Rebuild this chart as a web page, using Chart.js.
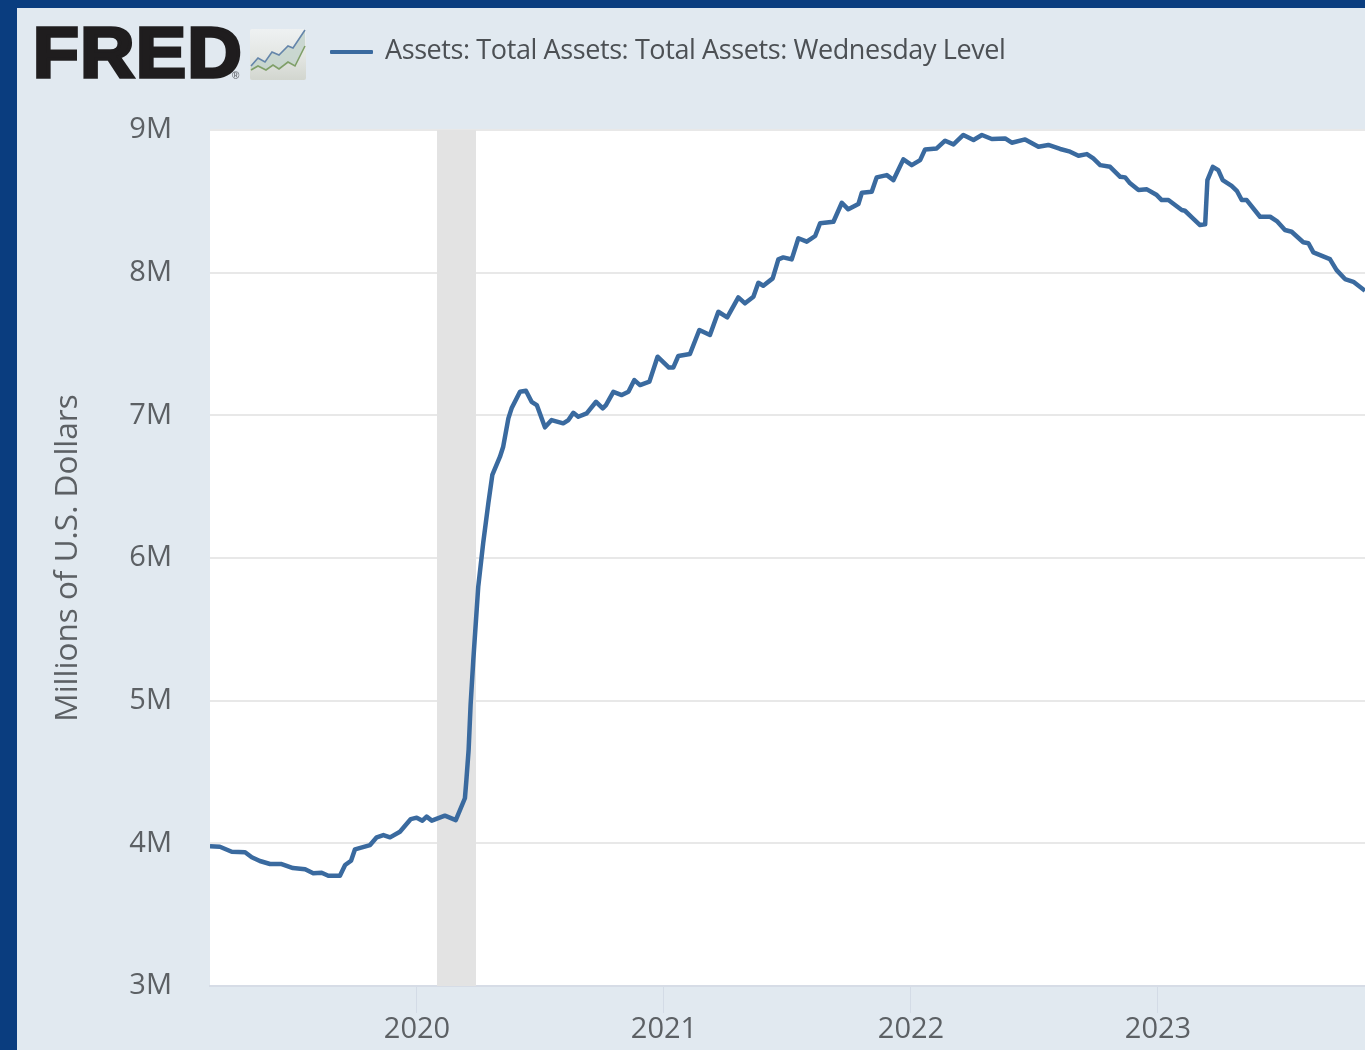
<!DOCTYPE html>
<html><head><meta charset="utf-8">
<script src="https://cdn.jsdelivr.net/npm/chart.js@4/dist/chart.umd.min.js"></script>
<style>
html,body{margin:0;padding:0;width:1365px;height:1050px;overflow:hidden;background:#0a3d7f}
#panel{position:absolute;left:17px;top:8px;width:1348px;height:1042px;background:#e1e9f0}
#wrap{position:absolute;left:0;top:0;width:1365px;height:1050px}
#logo{position:absolute;left:33px;top:13px;font:900 71px/80px "Liberation Sans",sans-serif;color:#1f1d1e;-webkit-text-stroke:3.5px #1f1d1e;letter-spacing:1.5px;transform-origin:left top;transform:scaleX(1.055)}
#reg{position:absolute;left:232px;top:71px;font:bold 10px/10px "Liberation Sans",sans-serif;color:#6a6f75}
#icon{position:absolute;left:250px;top:28px}
#lline{position:absolute;left:330px;top:50px;width:43px;height:4px;background:#3a6a9f;border-radius:1px}
#ltext{position:absolute;left:385px;top:31px;font:27px/36px "Open Sans",sans-serif;color:#4c5054;letter-spacing:-.4px;white-space:nowrap}
</style></head>
<body>
<div id="panel"></div>
<div id="wrap"><canvas id="c" width="1365" height="1050"></canvas></div>
<div id="logo">FRED</div><div id="reg">®</div>
<svg id="icon" width="58" height="52" viewBox="0 0 58 52">
<defs><linearGradient id="g" x1="0" y1="0" x2="0" y2="1"><stop offset="0" stop-color="#eef1f2"/><stop offset=".5" stop-color="#e4e7e4"/><stop offset="1" stop-color="#d2d6cf"/></linearGradient></defs>
<rect x="0" y="1" width="56" height="51" rx="2" fill="url(#g)"/>
<path d="M1 38L8 30L15 34L22 24L29 27L38 18L43 20L55 2L55 18L45 38L38 34L29 41L23 37L16 42L8 38L1 42Z" fill="#c4d3cc" opacity=".85"/>
<path d="M1 38L8 30L15 34L22 24L29 27L38 18L43 20L55 2" fill="none" stroke="#6485aa" stroke-width="1.6"/>
<path d="M1 42L8 38L16 42L23 37L29 41L38 34L45 38L55 18" fill="none" stroke="#7f9f68" stroke-width="1.6"/>
</svg>
<div id="lline"></div>
<div id="ltext">Assets: Total Assets: Total Assets: Wednesday Level</div>
<script>
const seriesName = "Assets: Total Assets: Total Assets: Wednesday Level";
const yAxisTitle = "Millions of U.S. Dollars";
const yearTicks = [2020, 2021, 2022, 2023];
const valueTicks = [3, 4, 5, 6, 7, 8, 9];
const recessionSpan = [2020.085, 2020.243];
const xRange = [2019.166, 2023.842];
const yRange = [3, 9];
const dates = [
2019.166,2019.206,2019.254,2019.308,2019.335,2019.368,2019.409,2019.456,2019.502,2019.551,2019.584,2019.618,2019.645,2019.692,2019.713,2019.737,2019.753,2019.814,2019.841,2019.868,2019.895,2019.935,2019.979,
2020.003,2020.026,2020.043,2020.064,2020.117,2020.161,2020.198,2020.204,2020.213,2020.221,2020.232,2020.252,2020.272,2020.293,2020.309,2020.340,2020.353,2020.374,2020.387,2020.421,2020.445,2020.468,2020.489,2020.522,2020.549,2020.596,2020.617,2020.637,2020.657,2020.691,2020.729,2020.756,2020.769,2020.799,2020.833,2020.860,2020.884,2020.907,2020.945,2020.978,
2021.024,2021.042,2021.062,2021.109,2021.147,2021.190,2021.224,2021.260,2021.305,2021.332,2021.366,2021.386,2021.406,2021.444,2021.467,2021.487,2021.521,2021.548,2021.582,2021.616,2021.636,2021.690,2021.724,2021.750,2021.791,2021.805,2021.845,2021.865,2021.906,2021.933,2021.973,
2022.007,2022.041,2022.061,2022.108,2022.142,2022.176,2022.216,2022.257,2022.291,2022.331,2022.385,2022.412,2022.466,2022.520,2022.560,2022.608,2022.648,2022.682,2022.716,2022.742,2022.770,2022.810,2022.851,2022.871,2022.891,2022.925,2022.959,2022.999,
2023.019,2023.046,2023.100,2023.113,2023.141,2023.174,2023.195,2023.204,2023.226,2023.248,2023.266,2023.302,2023.323,2023.343,2023.363,2023.417,2023.458,2023.485,2023.518,2023.545,2023.592,2023.613,2023.633,2023.700,2023.727,2023.761,2023.795,2023.842];
const totalAssets = [
3.979,3.976,3.941,3.937,3.902,3.876,3.855,3.855,3.827,3.818,3.790,3.794,3.773,3.773,3.848,3.878,3.958,3.988,4.042,4.058,4.042,4.081,4.170,
4.180,4.159,4.187,4.159,4.194,4.163,4.316,4.444,4.654,4.970,5.285,5.799,6.105,6.385,6.582,6.710,6.780,6.979,7.049,7.165,7.172,7.095,7.072,6.916,6.967,6.944,6.967,7.018,6.990,7.014,7.095,7.049,7.072,7.165,7.142,7.165,7.247,7.212,7.236,7.411,
7.335,7.336,7.416,7.430,7.598,7.563,7.726,7.687,7.827,7.785,7.831,7.929,7.908,7.960,8.093,8.107,8.093,8.241,8.217,8.257,8.346,8.357,8.490,8.444,8.481,8.560,8.567,8.668,8.684,8.649,8.794,
8.754,8.789,8.864,8.871,8.925,8.899,8.965,8.930,8.965,8.937,8.941,8.911,8.934,8.883,8.895,8.867,8.848,8.820,8.831,8.801,8.754,8.742,8.672,8.668,8.626,8.579,8.584,8.544,
8.509,8.509,8.439,8.434,8.388,8.334,8.339,8.649,8.742,8.719,8.649,8.609,8.574,8.509,8.509,8.392,8.392,8.362,8.299,8.287,8.213,8.206,8.142,8.095,8.018,7.955,7.936,7.873];

const backdrop = {
  id:'backdrop',
  beforeDraw(chart){
    const a = chart.chartArea, ctx = chart.ctx;
    ctx.save(); ctx.fillStyle = '#ffffff';
    ctx.fillRect(a.left, a.top, a.right-a.left, a.bottom-a.top); ctx.restore();
  },
  beforeDatasetsDraw(chart){
    const a = chart.chartArea, ctx = chart.ctx, x = chart.scales.x;
    const l = x.getPixelForValue(recessionSpan[0]), r = x.getPixelForValue(recessionSpan[1]);
    ctx.save(); ctx.fillStyle = '#e3e3e3';
    ctx.fillRect(l, a.top, r-l, a.bottom-a.top); ctx.restore();
  }
};
const labelFont = {family:'"Open Sans",sans-serif', size:29};
new Chart(document.getElementById('c'), {
  type:'line',
  data:{datasets:[{label:seriesName,
    data:dates.map((d,i)=>({x:d,y:totalAssets[i]})),
    borderColor:'#3a6a9f',borderWidth:4.5,pointRadius:0,tension:0,fill:false,borderJoinStyle:'round'}]},
  plugins:[backdrop],
  options:{
    responsive:false,animation:false,
    layout:{padding:{left:49,top:130,right:0,bottom:0}},
    plugins:{legend:{display:false},tooltip:{enabled:false}},
    scales:{
      x:{type:'linear',min:xRange[0],max:xRange[1],
        afterBuildTicks:s=>{s.ticks=yearTicks.map(v=>({value:v}));},
        afterFit:s=>{s.height=64;},
        border:{color:'#d6dce6',width:2},
        grid:{drawOnChartArea:false,drawTicks:true,tickLength:27,tickColor:'#d3dbe6',tickWidth:1},
        ticks:{color:'#5c6064',font:labelFont,padding:-1,labelOffset:1,maxRotation:0,autoSkip:false,callback:v=>String(v)}
      },
      y:{type:'linear',min:yRange[0],max:yRange[1],
        afterBuildTicks:s=>{s.ticks=valueTicks.map(v=>({value:v}));},
        afterFit:s=>{s.width=161;},
        border:{display:false},
        grid:{color:'#e8e8e8',lineWidth:2,drawTicks:false},
        title:{display:true,text:yAxisTitle,color:'#5c6064',font:{family:'"Open Sans",sans-serif',size:31.5},padding:0},
        ticks:{color:'#5c6064',font:labelFont,padding:38,labelOffset:0,autoSkip:false,callback:v=>v+'M'}
      }
    }
  }
});
</script>
</body></html>
